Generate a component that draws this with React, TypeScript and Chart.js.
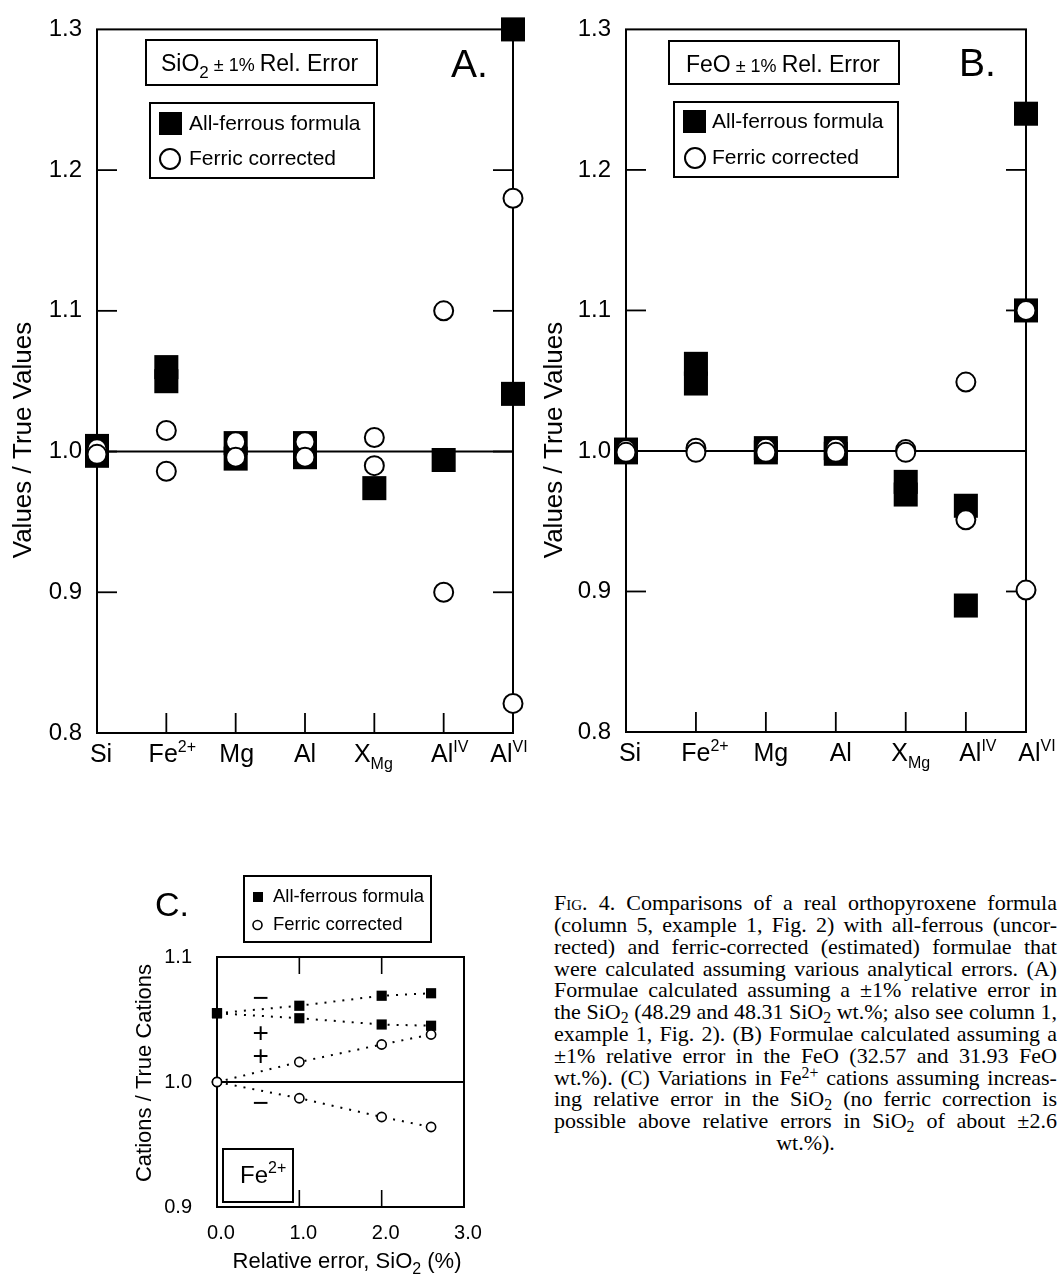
import React, { useEffect, useRef } from 'react';
import { Chart, registerables } from 'chart.js';

Chart.register(...registerables);

const FONT = '"Liberation Sans", Arial, Helvetica, sans-serif';
const SERIF = '"Liberation Serif", "Times New Roman", serif';

// ---------- data ----------
const categories = ['Si', 'Fe2+', 'Mg', 'Al', 'XMg', 'AlIV', 'AlVI'];
const categoryLabels = ['Si', 'Fe^2+', 'Mg', 'Al', 'X_Mg', 'Al^IV', 'Al^VI'];
const categoryPosA = [0, 1, 2, 3, 4, 5, 6];
const categoryPosB = [0, 1, 2, 3, 4, 4.86, 5.72];
const yTicksAB = [0.8, 0.9, 1.0, 1.1, 1.2, 1.3];

// A: SiO2 ±1% relative error
const allFerrousA = [[1.004, 0.997], [1.06, 1.05], [1.006, 0.995], [1.006, 0.996], [0.974], [0.994], [1.3, 1.041]];
const ferricA = [[1.002, 0.998], [1.015, 0.986], [1.007, 0.996], [1.007, 0.996], [1.01, 0.99], [1.1, 0.9], [1.18, 0.821]];

// B: FeO ±1% relative error
const allFerrousB = [[1.001, 0.999], [1.062, 1.048], [1.002, 0.999], [1.002, 0.998], [0.978, 0.969], [0.961, 0.89], [1.24, 1.1]];
const ferricB = [[1.001, 0.999], [1.002, 0.999], [1.002, 0.999], [1.002, 0.999], [1.001, 0.999], [1.049, 0.951], [1.1, 0.901]];

// C: Fe2+ vs relative error in SiO2
const relErrorC = [0, 1, 2, 2.6];
const feAllFerrousUpC = [1.055, 1.061, 1.069, 1.071];
const feAllFerrousLowC = [1.055, 1.051, 1.046, 1.045];
const feFerricUpC = [1.0, 1.016, 1.03, 1.038];
const feFerricLowC = [1.0, 0.987, 0.972, 0.964];
const xTicksC = [0, 1, 2, 3];
const yTicksC = [0.9, 1.0, 1.1];
const signsC = [
  { x: 0.53, y: 1.066, t: '\u2212' },
  { x: 0.53, y: 1.038, t: '+' },
  { x: 0.53, y: 1.02, t: '+' },
  { x: 0.53, y: 0.982, t: '\u2212' },
];

const legendLabels = ['All-ferrous formula', 'Ferric corrected'];

const captionLines = [
  'Fig. 4. Comparisons of a real orthopyroxene formula',
  '(column 5, example 1, Fig. 2) with all-ferrous (uncor-',
  'rected) and ferric-corrected (estimated) formulae that',
  'were calculated assuming various analytical errors. (A)',
  'Formulae calculated assuming a \u00b11% relative error in',
  'the SiO_{2} (48.29 and 48.31 SiO_{2} wt.%; also see column 1,',
  'example 1, Fig. 2). (B) Formulae calculated assuming a',
  '\u00b11% relative error in the FeO (32.57 and 31.93 FeO',
  'wt.%). (C) Variations in Fe^{2+} cations assuming increas-',
  'ing relative error in the SiO_{2} (no ferric correction is',
  'possible above relative errors in SiO_{2} of about \u00b12.6',
  'wt.%).',
];

// ---------- helpers ----------
type Seg = { t: string; size: number; dy: number };

function parseRich(s: string, size: number, small: number, supDy: number, subDy: number): Seg[] {
  const m = s.match(/^([^\^_]*)([\^_])(.*)$/);
  if (!m) return [{ t: s, size, dy: 0 }];
  return [
    { t: m[1], size, dy: 0 },
    { t: m[3], size: small, dy: m[2] === '^' ? supDy : subDy },
  ];
}

function segsWidth(ctx: CanvasRenderingContext2D, segs: Seg[]) {
  let w = 0;
  for (const s of segs) {
    ctx.font = `${s.size}px ${FONT}`;
    w += ctx.measureText(s.t).width;
  }
  return w;
}

function drawSegs(ctx: CanvasRenderingContext2D, segs: Seg[], x: number, y: number, align: 'left' | 'center' = 'left') {
  let cx = align === 'center' ? x - segsWidth(ctx, segs) / 2 : x;
  ctx.textAlign = 'left';
  ctx.textBaseline = 'alphabetic';
  ctx.fillStyle = '#000';
  for (const s of segs) {
    ctx.font = `${s.size}px ${FONT}`;
    ctx.fillText(s.t, cx, y + s.dy);
    cx += ctx.measureText(s.t).width;
  }
}

function seg(ctx: CanvasRenderingContext2D, x1: number, y1: number, x2: number, y2: number) {
  ctx.beginPath();
  ctx.moveTo(x1, y1);
  ctx.lineTo(x2, y2);
  ctx.stroke();
}

function vTitle(ctx: CanvasRenderingContext2D, text: string, x: number, y: number, size: number) {
  ctx.save();
  ctx.translate(x, y);
  ctx.rotate(-Math.PI / 2);
  ctx.font = `${size}px ${FONT}`;
  ctx.fillStyle = '#000';
  ctx.textAlign = 'center';
  ctx.textBaseline = 'middle';
  ctx.fillText(text, 0, 0);
  ctx.restore();
}

function makePanelAB(canvas: HTMLCanvasElement, p: any) {
  const W = canvas.width;
  const H = canvas.height;
  const pts = (vals: number[][]) => vals.flatMap((arr, i) => arr.map((v) => ({ x: p.pos[i], y: v })));

  const decor = {
    id: 'decorAB',
    beforeDatasetsDraw(chart: any) {
      const { ctx, chartArea: ca, scales } = chart;
      const xs = scales.x;
      const ys = scales.y;
      ctx.save();
      ctx.strokeStyle = '#000';
      ctx.lineWidth = 2;
      ctx.strokeRect(ca.left, ca.top, ca.right - ca.left, ca.bottom - ca.top);
      const y1 = ys.getPixelForValue(1.0);
      seg(ctx, ca.left, y1, ca.right, y1);
      ctx.lineWidth = 1.8;
      yTicksAB.forEach((v) => {
        if (v <= 0.8 || v >= 1.3) return;
        const yy = ys.getPixelForValue(v);
        seg(ctx, ca.left, yy, ca.left + 20, yy);
        seg(ctx, ca.right - 20, yy, ca.right, yy);
      });
      p.pos.slice(1, -1).forEach((v: number) => {
        const xx = xs.getPixelForValue(v);
        seg(ctx, xx, ca.bottom, xx, ca.bottom - 20);
      });

      // title box
      ctx.lineWidth = 2;
      const [tbx, tby, tbw, tbh] = p.titleBox;
      ctx.fillStyle = '#fff';
      ctx.fillRect(tbx, tby, tbw, tbh);
      ctx.strokeRect(tbx, tby, tbw, tbh);
      drawSegs(ctx, p.titleSegs, p.titleText[0], p.titleText[1]);

      // legend box
      const [lbx, lby, lbw, lbh] = p.legendBox;
      ctx.fillStyle = '#fff';
      ctx.fillRect(lbx, lby, lbw, lbh);
      ctx.strokeStyle = '#000';
      ctx.strokeRect(lbx, lby, lbw, lbh);
      ctx.fillStyle = '#000';
      ctx.fillRect(p.legendSq[0], p.legendSq[1], 23, 23);
      ctx.beginPath();
      ctx.arc(p.legendCircle[0], p.legendCircle[1], 10, 0, Math.PI * 2);
      ctx.fillStyle = '#fff';
      ctx.fill();
      ctx.lineWidth = 2;
      ctx.stroke();
      ctx.fillStyle = '#000';
      ctx.font = `21px ${FONT}`;
      ctx.textAlign = 'left';
      ctx.textBaseline = 'middle';
      ctx.fillText(legendLabels[0], p.legendTextX, p.legendY[0]);
      ctx.fillText(legendLabels[1], p.legendTextX, p.legendY[1]);

      // panel letter
      ctx.font = `39px ${FONT}`;
      ctx.textBaseline = 'alphabetic';
      ctx.fillText(p.letter, p.letterX, p.letterY);
      ctx.restore();
    },
    afterDraw(chart: any) {
      const { ctx, chartArea: ca, scales } = chart;
      ctx.save();
      p.pos.forEach((v: number, i: number) => {
        const xx = scales.x.getPixelForValue(v) + p.labelShift[i];
        drawSegs(ctx, parseRich(categoryLabels[i], 25, 16, -10, 7), xx, ca.bottom + 29, 'center');
      });
      vTitle(ctx, 'Values / True Values', p.yTitle[0], p.yTitle[1], 26);
      ctx.restore();
    },
  };

  return new Chart(canvas, {
    type: 'scatter',
    data: {
      datasets: [
        {
          label: legendLabels[1],
          data: pts(p.circles),
          pointStyle: 'circle',
          pointRadius: 9.5,
          pointBackgroundColor: '#fff',
          pointBorderColor: '#000',
          pointBorderWidth: 2,
          clip: false,
        },
        {
          label: legendLabels[0],
          data: pts(p.squares),
          pointStyle: 'rect',
          pointRadius: 17,
          pointBackgroundColor: '#000',
          pointBorderColor: '#000',
          pointBorderWidth: 0,
          clip: false,
        },
      ],
    } as any,
    options: {
      animation: false,
      responsive: false,
      events: [],
      layout: { padding: { left: 0, top: p.top, right: W - p.right, bottom: H - p.bottom } },
      plugins: { legend: { display: false }, tooltip: { enabled: false } },
      scales: {
        x: { type: 'linear', display: false, min: 0, max: p.xMax },
        y: {
          type: 'linear',
          min: 0.8,
          max: 1.3,
          afterBuildTicks: (s: any) => {
            s.ticks = yTicksAB.map((v) => ({ value: v }));
          },
          afterFit: (s: any) => {
            s.width = p.left;
          },
          grid: { display: false, drawTicks: false },
          border: { display: false },
          ticks: {
            padding: 15,
            color: '#000',
            font: { size: 24, family: FONT },
            callback: (v: any) => Number(v).toFixed(1),
          },
        },
      },
    } as any,
    plugins: [decor],
  });
}

function makePanelC(canvas: HTMLCanvasElement) {
  const W = canvas.width;
  const H = canvas.height;
  const left = 217;
  const right = 464;
  const top = 107;
  const bottom = 357;
  const pts = (ys: number[]) => relErrorC.map((x, i) => ({ x, y: ys[i] }));
  const lineDs = (label: string, ys: number[], square: boolean) => ({
    label,
    data: pts(ys),
    showLine: true,
    borderColor: '#000',
    borderWidth: 2,
    borderDash: [2, 7],
    pointStyle: square ? 'rect' : 'circle',
    pointRadius: square ? 7.2 : 4.6,
    pointBackgroundColor: square ? '#000' : '#fff',
    pointBorderColor: '#000',
    pointBorderWidth: square ? 0 : 1.6,
    clip: false,
  });

  const decor = {
    id: 'decorC',
    beforeDatasetsDraw(chart: any) {
      const { ctx, chartArea: ca, scales } = chart;
      ctx.save();
      ctx.strokeStyle = '#000';
      ctx.lineWidth = 2;
      ctx.strokeRect(ca.left, ca.top, ca.right - ca.left, ca.bottom - ca.top);
      const y1 = scales.y.getPixelForValue(1.0);
      seg(ctx, ca.left, y1, ca.right, y1);
      ctx.lineWidth = 1.6;
      xTicksC.slice(1, -1).forEach((v) => {
        const xx = scales.x.getPixelForValue(v);
        seg(ctx, xx, ca.top, xx, ca.top + 17);
        seg(ctx, xx, ca.bottom, xx, ca.bottom - 17);
      });
      // Fe2+ box
      ctx.lineWidth = 2;
      ctx.strokeRect(223, 299, 70, 53);
      drawSegs(ctx, [{ t: 'Fe', size: 24, dy: 0 }, { t: '2+', size: 16, dy: -10 }], 240, 333);
      // signs
      ctx.font = `28px ${FONT}`;
      ctx.textAlign = 'center';
      ctx.textBaseline = 'middle';
      ctx.fillStyle = '#000';
      signsC.forEach((s) => {
        ctx.fillText(s.t, scales.x.getPixelForValue(s.x), scales.y.getPixelForValue(s.y));
      });
      ctx.restore();
    },
    afterDraw(chart: any) {
      const { ctx } = chart;
      ctx.save();
      // legend box
      ctx.strokeStyle = '#000';
      ctx.lineWidth = 2;
      ctx.strokeRect(244, 26, 187, 66);
      ctx.fillStyle = '#000';
      ctx.fillRect(253, 42, 10, 10);
      ctx.beginPath();
      ctx.arc(257.5, 75, 4.5, 0, Math.PI * 2);
      ctx.fillStyle = '#fff';
      ctx.fill();
      ctx.lineWidth = 1.6;
      ctx.stroke();
      ctx.fillStyle = '#000';
      ctx.font = `18.5px ${FONT}`;
      ctx.textAlign = 'left';
      ctx.textBaseline = 'middle';
      ctx.fillText(legendLabels[0], 273, 47);
      ctx.fillText(legendLabels[1], 273, 75);
      // letter
      ctx.font = `34px ${FONT}`;
      ctx.textBaseline = 'alphabetic';
      ctx.fillText('C.', 155, 66);
      // axis titles
      vTitle(ctx, 'Cations / True Cations', 145, 223, 22);
      drawSegs(
        ctx,
        [
          { t: 'Relative error, SiO', size: 22, dy: 0 },
          { t: '2', size: 16, dy: 6 },
          { t: ' (%)', size: 22, dy: 0 },
        ],
        347,
        418,
        'center'
      );
      ctx.restore();
    },
  };

  return new Chart(canvas, {
    type: 'scatter',
    data: {
      datasets: [
        lineDs(legendLabels[1], feFerricUpC, false),
        lineDs(legendLabels[1], feFerricLowC, false),
        lineDs(legendLabels[0], feAllFerrousUpC, true),
        lineDs(legendLabels[0], feAllFerrousLowC, true),
      ],
    } as any,
    options: {
      animation: false,
      responsive: false,
      events: [],
      layout: { padding: { left: 0, top, right: W - right, bottom: 0 } },
      plugins: { legend: { display: false }, tooltip: { enabled: false } },
      scales: {
        x: {
          type: 'linear',
          min: 0,
          max: 3,
          afterBuildTicks: (s: any) => {
            s.ticks = xTicksC.map((v) => ({ value: v }));
          },
          afterFit: (s: any) => {
            s.height = H - bottom;
          },
          grid: { display: false, drawTicks: false },
          border: { display: false },
          ticks: {
            padding: 14,
            labelOffset: 4,
            maxRotation: 0,
            color: '#000',
            font: { size: 20, family: FONT },
            callback: (v: any) => Number(v).toFixed(1),
          },
        },
        y: {
          type: 'linear',
          min: 0.9,
          max: 1.1,
          afterBuildTicks: (s: any) => {
            s.ticks = yTicksC.map((v) => ({ value: v }));
          },
          afterFit: (s: any) => {
            s.width = left;
          },
          grid: { display: false, drawTicks: false },
          border: { display: false },
          ticks: {
            padding: 25,
            color: '#000',
            font: { size: 20, family: FONT },
            callback: (v: any) => Number(v).toFixed(1),
          },
        },
      },
    } as any,
    plugins: [decor],
  });
}

const panelA = {
  pos: categoryPosA,
  xMax: 6,
  squares: allFerrousA,
  circles: ferricA,
  left: 97,
  right: 515,
  top: 21,
  bottom: 733,
  labelShift: [4, 6, 1, 0, -1, 6, -4],
  titleBox: [146, 40, 231, 45],
  titleText: [161, 71],
  titleSegs: [
    { t: 'SiO', size: 23, dy: 0 },
    { t: '2', size: 17, dy: 7 },
    { t: ' \u00b1 1% ', size: 18, dy: 0 },
    { t: 'Rel. Error', size: 23, dy: 0 },
  ],
  legendBox: [150, 103, 224, 75],
  legendSq: [159, 112],
  legendCircle: [170, 159],
  legendTextX: 189,
  legendY: [124, 159],
  letter: 'A.',
  letterX: 451,
  letterY: 77,
  yTitle: [24, 440],
};

const panelB = {
  pos: categoryPosB,
  xMax: 5.72,
  squares: allFerrousB,
  circles: ferricB,
  left: 96,
  right: 496,
  top: 21,
  bottom: 732,
  labelShift: [4, 9, 5, 5, 5, 12, 11],
  titleBox: [139, 41, 230, 43],
  titleText: [156, 72],
  titleSegs: [
    { t: 'FeO', size: 23, dy: 0 },
    { t: ' \u00b1 1% ', size: 18, dy: 0 },
    { t: 'Rel. Error', size: 23, dy: 0 },
  ],
  legendBox: [144, 102, 224, 75],
  legendSq: [153, 110],
  legendCircle: [165, 158],
  legendTextX: 182,
  legendY: [122, 158],
  letter: 'B.',
  letterX: 429,
  letterY: 76,
  yTitle: [25, 440],
};

function renderWord(w: string, key: number, first: boolean) {
  if (first && w === 'Fig.') {
    return (
      <span key={key} style={{ fontVariant: 'small-caps' }}>
        {w}
      </span>
    );
  }
  const parts = w.split(/(_\{[^}]*\}|\^\{[^}]*\})/).filter((s) => s.length > 0);
  return (
    <span key={key}>
      {parts.map((pt, i) => {
        if (pt.startsWith('_{'))
          return (
            <sub key={i} style={{ fontSize: '0.72em', lineHeight: 0, verticalAlign: '-0.25em' }}>
              {pt.slice(2, -1)}
            </sub>
          );
        if (pt.startsWith('^{'))
          return (
            <sup key={i} style={{ fontSize: '0.72em', lineHeight: 0, verticalAlign: '0.45em' }}>
              {pt.slice(2, -1)}
            </sup>
          );
        return <React.Fragment key={i}>{pt}</React.Fragment>;
      })}
    </span>
  );
}

export default function App() {
  const refA = useRef<HTMLCanvasElement>(null);
  const refB = useRef<HTMLCanvasElement>(null);
  const refC = useRef<HTMLCanvasElement>(null);

  useEffect(() => {
    const charts = [
      makePanelAB(refA.current as HTMLCanvasElement, panelA),
      makePanelAB(refB.current as HTMLCanvasElement, panelB),
      makePanelC(refC.current as HTMLCanvasElement),
    ];
    return () => charts.forEach((c) => c.destroy());
  }, []);

  const lineH = 21.8;
  return (
    <div
      style={{
        position: 'absolute',
        left: 0,
        top: 0,
        width: 1059,
        height: 1276,
        background: '#fff',
        overflow: 'hidden',
      }}
    >
      <canvas ref={refA} width={530} height={790} style={{ position: 'absolute', left: 0, top: 0, width: 530, height: 790 }} />
      <canvas ref={refB} width={529} height={790} style={{ position: 'absolute', left: 530, top: 0, width: 529, height: 790 }} />
      <canvas ref={refC} width={530} height={426} style={{ position: 'absolute', left: 0, top: 850, width: 530, height: 426 }} />
      {captionLines.map((line, i) => {
        const words = line.split(' ');
        const last = i === captionLines.length - 1;
        return (
          <div
            key={i}
            style={{
              position: 'absolute',
              left: 554,
              top: 903 - lineH / 2 + i * lineH,
              width: 503,
              height: lineH,
              display: 'flex',
              justifyContent: last ? 'center' : 'space-between',
              fontFamily: SERIF,
              fontSize: 22,
              lineHeight: `${lineH}px`,
              whiteSpace: 'nowrap',
              color: '#000',
            }}
          >
            {words.map((w, j) => renderWord(w, j, i === 0 && j === 0))}
          </div>
        );
      })}
    </div>
  );
}
